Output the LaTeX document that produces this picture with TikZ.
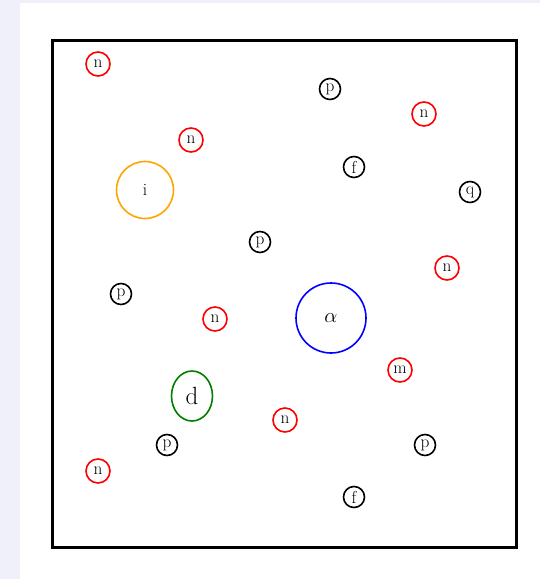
\documentclass[tikz,border=0pt]{standalone}
\usepackage{amsmath}
\usetikzlibrary{shapes.geometric}
\definecolor{fondo}{RGB}{240,240,250}
\definecolor{verde}{RGB}{0,128,0}
\definecolor{naranja}{RGB}{255,165,0}

\begin{document}
\begin{tikzpicture}[x=1pt,y=-1pt,line width=1.6pt,
  roja/.style={circle,draw=red,minimum size=24pt,inner sep=0pt,font=\LARGE},
  negra/.style={circle,draw=black,minimum size=21pt,inner sep=0pt,font=\LARGE}]
  % fondo y marco
  \fill[fondo] (0,0) rectangle (540,579);
  \fill[white] (20,3) rectangle (540,579);
  \draw[line width=3pt] (52,40) rectangle (516,547);
  % particulas grandes
  \node[circle,draw=naranja,minimum size=57pt,inner sep=0pt,font=\LARGE] (ion) at (145,190) {i};
  \node[circle,draw=blue,minimum size=70pt,inner sep=0pt,font=\huge] (alfa) at (331,318) {$\alpha$};
  \node[ellipse,draw=verde,minimum width=41pt,minimum height=50pt,inner sep=0pt,font=\Huge] (deut) at (192,396) {d};
  % neutrones
  \node[roja] (n1) at (98,64) {n};
  \node[roja] (n2) at (424,114) {n};
  \node[roja] (n3) at (191,140) {n};
  \node[roja] (n4) at (447,268) {n};
  \node[roja] (n5) at (215,319) {n};
  \node[roja] (n6) at (285,420) {n};
  \node[roja] (n7) at (98,471) {n};
  \node[roja] (mu) at (400,370) {m};
  % protones y otras
  \node[negra] (p1) at (330,89) {p};
  \node[negra] (f1) at (354,167) {f};
  \node[negra] (q1) at (470,192) {q};
  \node[negra] (p2) at (260,242) {p};
  \node[negra] (p3) at (121,294) {p};
  \node[negra] (p4) at (167,445) {p};
  \node[negra] (p5) at (425,445) {p};
  \node[negra] (f2) at (354,497) {f};
\end{tikzpicture}
\end{document}
